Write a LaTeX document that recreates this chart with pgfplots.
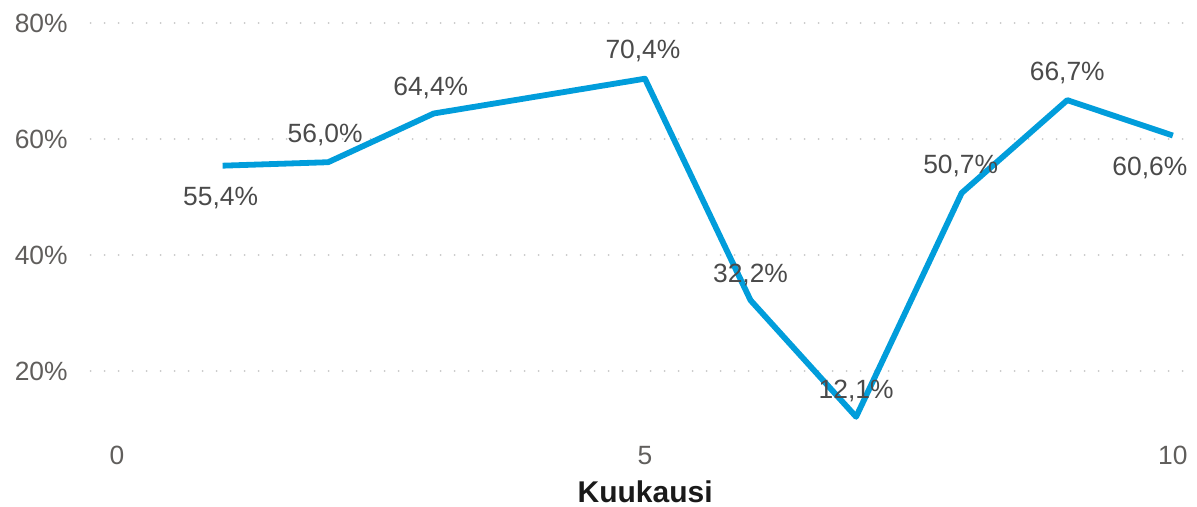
\documentclass[border=0pt]{standalone}
\usepackage{fontspec}
\setmainfont{Liberation Sans}
\usepackage{pgfplots}
\pgfplotsset{compat=1.18}
\usepackage{pgfplotstable}
\definecolor{lineblue}{HTML}{019DDB}
\definecolor{ticktext}{HTML}{605E5C}
\definecolor{labeltext}{HTML}{4A4A4A}
\definecolor{gridgray}{HTML}{C8C8C8}
\definecolor{titletext}{HTML}{1A1A1A}

\pgfplotstableread{
x y
1 55.4
2 56.0
3 64.4
4 67.4
5 70.4
6 32.2
7 12.1
8 50.7
9 66.7
10 60.6
}\linedata

\pgfplotstableread{
x y lbl dx dy
1 55.4 55,4 -1 -19.8
2 56.0 56,0 -1.5 9.7
3 64.4 64,4 -1.5 9.2
5 70.4 70,4 -1 10.2
6 32.2 32,2 0 8.8
7 12.1 12,1 0 9.2
8 50.7 50,7 -0.5 9.7
9 66.7 66,7 0 9.7
10 60.6 60,6 -11.5 -20.2
}\labeldata

\begin{document}
\begin{tikzpicture}
\begin{axis}[
  scale only axis,
  width=548bp, height=214.6bp,
  xmin=-0.25, xmax=10.13,
  ymin=8, ymax=82,
  clip=false,
  axis line style={draw=none},
  tick style={draw=none},
  xtick={0,5,10},
  ytick={20,40,60,80},
  yticklabel={\pgfmathprintnumber{\tick}\%},
  /pgf/number format/assume math mode=true,
  ymajorgrids=true,
  grid style={gridgray, line width=1bp, dash pattern=on 0bp off 7bp, line cap=round},
  yticklabel style={anchor=east, inner sep=0pt, xshift=-11.3bp, text=ticktext, font=\fontsize{13.2bp}{15bp}\selectfont},
  xticklabel style={anchor=base, inner sep=0pt, yshift=-12bp, text=ticktext, font=\fontsize{13.2bp}{15bp}\selectfont},
  xlabel={Kuukausi},
  xlabel style={at={(axis description cs:0.506,0)}, anchor=base, inner sep=0pt, yshift=-30.7bp, text=titletext, font=\fontsize{15bp}{17bp}\selectfont\bfseries},
]
\addplot[lineblue, line width=2.9bp, line join=round, mark=none] table[x=x, y=y] {\linedata};
\addplot[draw=none, mark=none,
  point meta=explicit symbolic,
  visualization depends on={\thisrow{dx} \as \dx},
  visualization depends on={\thisrow{dy} \as \dy},
  nodes near coords={\pgfplotspointmeta\%},
  every node near coord/.style={anchor=base, inner sep=0pt, xshift=\dx*1bp, yshift=\dy*1bp, text=labeltext, font=\fontsize{13.2bp}{15bp}\selectfont},
] table[x=x, y=y, meta=lbl] {\labeldata};
\end{axis}
\pgfresetboundingbox
\path (current axis.south west) ++(-45.3bp,-33.2bp) rectangle ++(598.5bp,253.5bp);
\end{tikzpicture}
\end{document}
